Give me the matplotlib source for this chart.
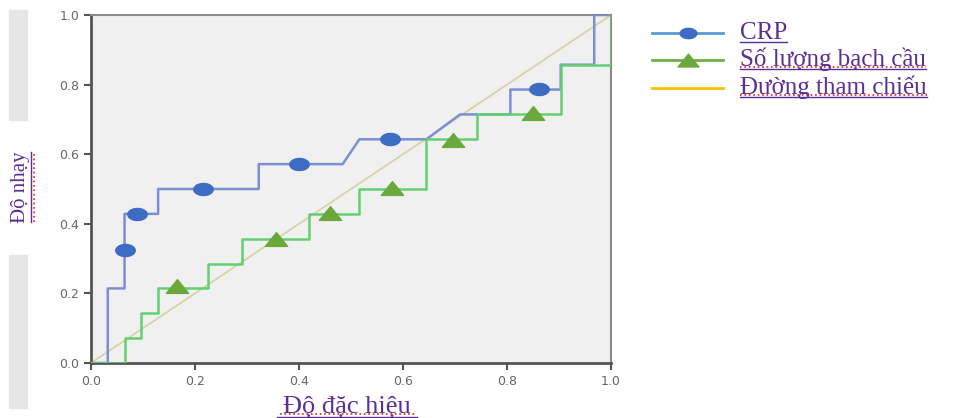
import numpy as np
import matplotlib
matplotlib.use("Agg")
import matplotlib.pyplot as plt
from matplotlib.path import Path
from matplotlib.patches import Rectangle

# ROC curve vertices (1 - specificity, sensitivity)
crp_x = np.array([0, 1, 1, 2, 2, 4, 4, 10, 10, 15, 16, 20, 22, 25, 25, 28, 28, 30, 30, 31]) / 31
crp_y = np.array([0, 0, 3, 3, 6, 6, 7, 7, 8, 8, 9, 9, 10, 10, 11, 11, 12, 12, 14, 14]) / 14
wbc_x = np.array([0, 2, 2, 3, 3, 4, 4, 7, 7, 9, 9, 13, 13, 16, 16, 20, 20, 23, 23, 28, 28, 31, 31]) / 31
wbc_y = np.array([0, 0, 1, 1, 2, 2, 3, 3, 4, 4, 5, 5, 6, 6, 7, 7, 9, 9, 10, 10, 12, 12, 14]) / 14
ref_x = [0, 1]
ref_y = [0, 1]

# marker positions
crp_mx = [0.065, 0.088, 0.215, 0.40, 0.575, 0.862]
crp_my = [0.325, 0.428, 0.50, 0.573, 0.643, 0.787]
wbc_mx = [0.165, 0.356, 0.46, 0.578, 0.696, 0.85]
wbc_my = [0.221, 0.356, 0.43, 0.503, 0.64, 0.718]

ticks = [0.0, 0.2, 0.4, 0.6, 0.8, 1.0]
tick_labels = ["0.0", "0.2", "0.4", "0.6", "0.8", "1.0"]
legend_labels = ["CRP", "Số lượng bạch cầu", "Đường tham chiếu"]
xlabel = "Độ đặc hiệu"
ylabel = "Độ nhạy"

# custom squashed markers
t = np.linspace(0, 2 * np.pi, 40)
ell = Path(np.column_stack([np.cos(t), 0.62 * np.sin(t)]), closed=True)
tri = Path([(-1, -0.62), (1, -0.62), (0, 0.62), (-1, -0.62)], closed=True)

fig = plt.figure(figsize=(9.6, 4.18), dpi=100)
fig.patch.set_facecolor("white")

# gray background blocks on the left edge
fig.patches.append(Rectangle((9 / 960, 1 - 120 / 418), 18 / 960, 110 / 418,
                             transform=fig.transFigure, color="#e6e6e6", zorder=0))
fig.patches.append(Rectangle((9 / 960, 1 - 408 / 418), 18 / 960, 153 / 418,
                             transform=fig.transFigure, color="#e6e6e6", zorder=0))

ax = fig.add_axes([91 / 960, 1 - 363 / 418, 520 / 960, 348 / 418])
ax.set_facecolor("#f0f0f0")
ax.set_xlim(0, 1)
ax.set_ylim(0, 1)

ax.plot(ref_x, ref_y, color="#d6d2a2", lw=1.2, zorder=2)
ax.plot(crp_x, crp_y, color="#7b8fd4", lw=1.8, zorder=3)
ax.plot(wbc_x, wbc_y, color="#62cf72", lw=1.8, zorder=3)
ax.plot(crp_mx, crp_my, ls="none", marker=ell, ms=14, color="#3d6cc4", zorder=4)
ax.plot(wbc_mx, wbc_my, ls="none", marker=tri, ms=16, color="#6aa83c", zorder=4)

ax.set_xticks(ticks)
ax.set_xticklabels(tick_labels)
ax.set_yticks(ticks)
ax.set_yticklabels(tick_labels)
ax.tick_params(axis="both", colors="#555555", labelcolor="#666666", labelsize=9,
               length=5, width=1.5, direction="out")
for s in ["left", "bottom"]:
    ax.spines[s].set_color("#555555")
    ax.spines[s].set_linewidth(2)
for s in ["top", "right"]:
    ax.spines[s].set_color("#8a8a8a")
    ax.spines[s].set_linewidth(1.5)

purple = "#5b2f95"
serif = "Liberation Serif"

# y label
fig.text(21 / 960, 1 - 187 / 418, ylabel, rotation=90, ha="center", va="center",
         fontsize=15, color=purple, family=serif)
fig.add_artist(plt.Line2D([31 / 960, 31 / 960], [1 - 222 / 418, 1 - 152 / 418],
                          transform=fig.transFigure, color=purple, lw=1))
fig.add_artist(plt.Line2D([34 / 960, 34 / 960], [1 - 222 / 418, 1 - 152 / 418],
                          transform=fig.transFigure, color="#e02020", lw=1.2, ls=":"))

# x label
xt = fig.text(347 / 960, 1 - 413 / 418, xlabel, ha="center", va="baseline",
              fontsize=19, color=purple, family=serif)
fig.add_artist(plt.Line2D([277 / 960, 417 / 960], [1 - 417 / 418, 1 - 417 / 418],
                          transform=fig.transFigure, color=purple, lw=1))
fig.add_artist(plt.Line2D([280 / 960, 417 / 960], [1 - 414 / 418, 1 - 414 / 418],
                          transform=fig.transFigure, color="#e02020", lw=1.2, ls=":"))

# legend drawn manually
leg_y = [33, 60, 88]
leg_colors = ["#5b9bd5", "#70ad47", "#ffc000"]
leg_markers = [ell, tri, None]
leg_ms = [12, 15, 0]
leg_mcolors = ["#3d6cc4", "#6aa83c", None]
for i, lab in enumerate(legend_labels):
    yy = 1 - leg_y[i] / 418
    fig.add_artist(plt.Line2D([652 / 960, 723 / 960], [yy, yy], transform=fig.transFigure,
                              color=leg_colors[i], lw=2))
    if leg_markers[i] is not None:
        fig.add_artist(plt.Line2D([688 / 960], [yy], transform=fig.transFigure, ls="none",
                                  marker=leg_markers[i], ms=leg_ms[i], color=leg_mcolors[i]))
    txt = fig.text(740 / 960, yy - 6 / 418, lab, ha="left", va="baseline", fontsize=18,
                   color=purple, family=serif)
    fig.canvas.draw()
    bb = txt.get_window_extent()
    x0, x1 = bb.x0 / 960, bb.x1 / 960
    uy = yy - 9 / 418
    fig.add_artist(plt.Line2D([x0, x1], [uy, uy], transform=fig.transFigure, color=purple, lw=1))
    if i > 0:
        fig.add_artist(plt.Line2D([x0, x1], [uy + 2 / 418, uy + 2 / 418], transform=fig.transFigure,
                                  color="#e02020", lw=1.2, ls=":"))

fig.savefig("out.png", dpi=100, facecolor="white")
